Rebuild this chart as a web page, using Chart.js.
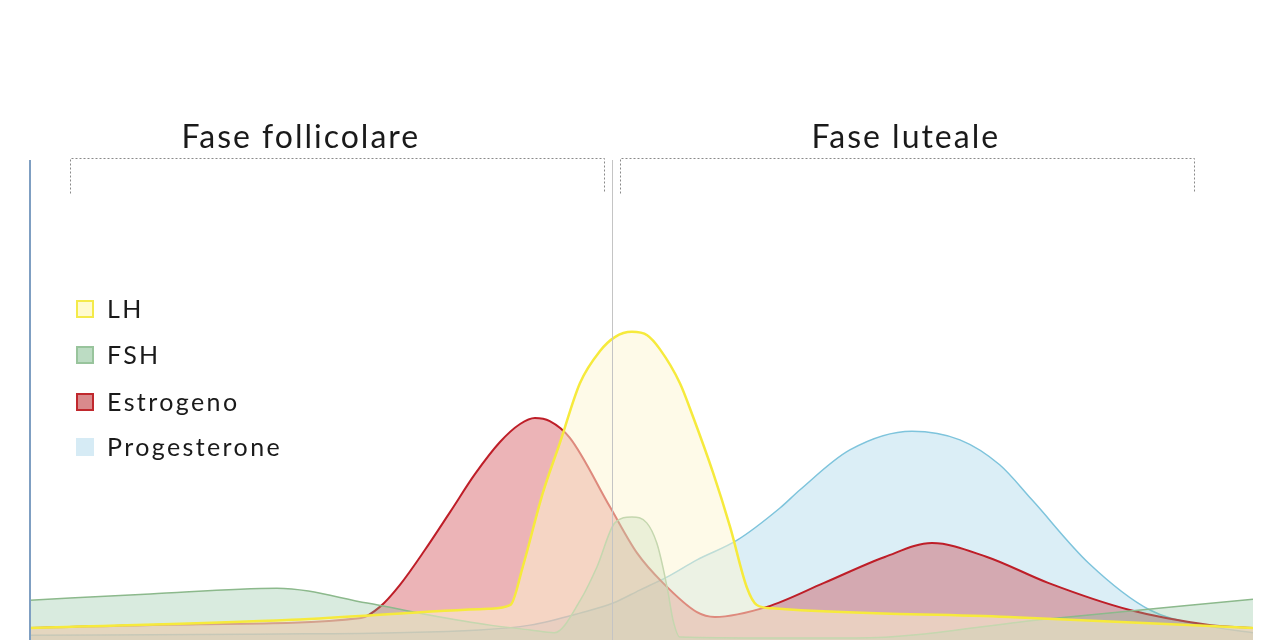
<!DOCTYPE html>
<html>
<head>
<meta charset="utf-8">
<script src="https://cdn.jsdelivr.net/npm/chart.js@4/dist/chart.umd.min.js"></script>
<style>
  html, body { margin: 0; padding: 0; background: #fff; }
  #wrap { width: 1280px; height: 640px; }
</style>
</head>
<body>
<div id="wrap"><canvas id="cycle" width="1280" height="640"></canvas></div>
<script>
// cycle day (x) and relative hormone level (y, 0-100)
const lhDays = [0, 6, 10.5, 11.0, 11.28, 11.74, 12.13, 12.59, 13.05, 13.39, 13.78, 14.13, 14.42, 14.88, 15.18, 15.64, 16.03, 16.41, 16.64, 17.0, 22.4, 28]
const lhValues = [2.5, 4.2, 6.5, 7.3, 15.2, 30.6, 41, 53.5, 60.2, 63.1, 64.2, 63.5, 60.6, 53.5, 46.5, 34.8, 23.5, 11, 7.3, 6.6, 4.8, 2.5]

const fshDays = [0, 2.75, 5.65, 7.72, 9.14, 10.53, 11.45, 12.0, 12.6, 12.98, 13.39, 13.78, 14.12, 14.35, 14.49, 14.61, 14.72, 14.88, 17.0, 18.9, 23.3, 28]
const fshValues = [8.3, 9.6, 10.8, 7.7, 5.2, 3.1, 2.1, 1.5, 8.3, 15.2, 24.4, 25.6, 24.4, 20.2, 15.2, 9.8, 4.2, 0.6, 0.4, 0.4, 4.4, 8.5]

const estDays = [0, 3.9, 7.58, 8.01, 8.47, 9.04, 9.62, 10.19, 10.76, 11.22, 11.56, 11.9, 12.36, 13.28, 13.9, 14.49, 15.27, 15.68, 16.87, 18.18, 19.57, 20.65, 21.91, 23.31, 25.18, 27.04, 28]
const estValues = [2.5, 3.3, 4.6, 6.9, 11.5, 18.75, 26.7, 34.6, 41.25, 45, 46.25, 45.6, 42.1, 27.7, 18.1, 11.9, 5.8, 4.8, 6.9, 11.9, 17.3, 20.2, 17.3, 11.9, 6.25, 3.1, 2.5]

const progDays = [0, 5, 10.3, 11.45, 12.59, 13.35, 13.96, 14.58, 15.27, 16.19, 17.17, 17.63, 18.77, 20.19, 21.29, 22.2, 22.94, 24.24, 25.64, 26.85, 28]
const progValues = [1.0, 1.2, 2.1, 3.1, 5.6, 7.7, 10.4, 13.1, 16.7, 20.8, 27.5, 31.3, 39.6, 43.5, 41.7, 36.5, 29.2, 16.0, 6.25, 3.1, 1.5]

const labels = ['LH', 'FSH', 'Estrogeno', 'Progesterone']

// ovulation divider and the two phases (in cycle days)
const ovulationDay = 13.32
const phaseNames = ['Fase follicolare', 'Fase luteale']
const phaseStart = [0.92, 13.5]
const phaseEnd = [13.14, 26.64]
const phaseTitleDay = [6.2, 20.05]

const toPoints = (days, values) => days.map((d, i) => ({ x: d, y: values[i] }))

const overlay = {
    id: 'overlay',
    afterDatasetsDraw(chart) {
        const ctx = chart.ctx
        const area = chart.chartArea
        const xs = chart.scales.x
        ctx.save()

        // left axis
        ctx.strokeStyle = '#7f9fc2'
        ctx.lineWidth = 2
        ctx.beginPath()
        ctx.moveTo(area.left, area.top)
        ctx.lineTo(area.left, area.bottom)
        ctx.stroke()

        // ovulation line
        const ox = Math.round(xs.getPixelForValue(ovulationDay)) + 0.5
        ctx.strokeStyle = '#c4c4c4'
        ctx.lineWidth = 1
        ctx.beginPath()
        ctx.moveTo(ox, area.top)
        ctx.lineTo(ox, area.bottom)
        ctx.stroke()

        // phase brackets + titles
        ctx.setLineDash([2, 2])
        ctx.strokeStyle = '#8a8a8a'
        phaseNames.forEach((name, i) => {
            const x1 = Math.round(xs.getPixelForValue(phaseStart[i])) + 0.5
            const x2 = Math.round(xs.getPixelForValue(phaseEnd[i])) + 0.5
            const top = area.top - 1.5
            ctx.beginPath()
            ctx.moveTo(x1, top + 35)
            ctx.lineTo(x1, top)
            ctx.lineTo(x2, top)
            ctx.lineTo(x2, top + 35)
            ctx.stroke()
        })
        ctx.setLineDash([])
        ctx.fillStyle = '#1a1a1a'
        ctx.font = '32px Lato'
        ctx.letterSpacing = '2px'
        ctx.textAlign = 'center'
        ctx.textBaseline = 'alphabetic'
        phaseNames.forEach((name, i) => {
            ctx.fillText(name, xs.getPixelForValue(phaseTitleDay[i]), area.top - 12)
        })

        // legend
        ctx.font = '25px Lato'
        ctx.letterSpacing = '2.4px'
        ctx.textAlign = 'left'
        ctx.textBaseline = 'middle'
        const rows = [309, 355, 402, 447]
        chart.data.datasets.forEach((ds, i) => {
            const y = rows[i]
            ctx.fillStyle = ds.legendFill
            ctx.fillRect(76, y - 9, 18, 18)
            if (ds.legendBorder) {
                ctx.strokeStyle = ds.legendBorder
                ctx.lineWidth = 2
                ctx.strokeRect(77, y - 8, 16, 16)
            }
            ctx.fillStyle = '#1a1a1a'
            ctx.fillText(ds.label, 107, y + 1)
        })
        ctx.restore()
    }
}

new Chart(document.getElementById('cycle'), {
    type: 'line',
    data: {
        datasets: [
            {
                label: labels[0],
                data: toPoints(lhDays, lhValues),
                borderColor: 'rgb(246, 234, 60)',
                backgroundColor: 'rgba(254, 245, 210, 0.5)',
                borderWidth: 2.5,
                fill: 'origin',
                legendFill: '#fffbd0',
                legendBorder: '#f4ea4a'
            },
            {
                label: labels[1],
                data: toPoints(fshDays, fshValues),
                borderColor: 'rgb(140, 185, 140)',
                backgroundColor: 'rgba(130, 190, 150, 0.3)',
                borderWidth: 1.5,
                fill: 'origin',
                legendFill: '#bcdcc3',
                legendBorder: '#98c49c'
            },
            {
                label: labels[2],
                data: toPoints(estDays, estValues),
                borderColor: 'rgb(190, 30, 40)',
                backgroundColor: 'rgba(200, 40, 50, 0.35)',
                borderWidth: 2,
                fill: 'origin',
                legendFill: '#d98a8c',
                legendBorder: '#c0282d'
            },
            {
                label: labels[3],
                data: toPoints(progDays, progValues),
                borderColor: 'rgb(126, 196, 220)',
                backgroundColor: 'rgba(135, 200, 225, 0.3)',
                borderWidth: 1.5,
                fill: 'origin',
                legendFill: '#d6ebf5',
                legendBorder: null
            }
        ]
    },
    options: {
        responsive: false,
        animation: false,
        layout: { padding: { left: 30, right: 27, top: 160, bottom: 0 } },
        elements: {
            point: { radius: 0 },
            line: { cubicInterpolationMode: 'monotone' }
        },
        scales: {
            x: { type: 'linear', min: 0, max: 28, display: false },
            y: { min: 0, max: 100, display: false }
        },
        plugins: {
            legend: { display: false },
            tooltip: { enabled: false }
        }
    },
    plugins: [overlay]
})
</script>
</body>
</html>
